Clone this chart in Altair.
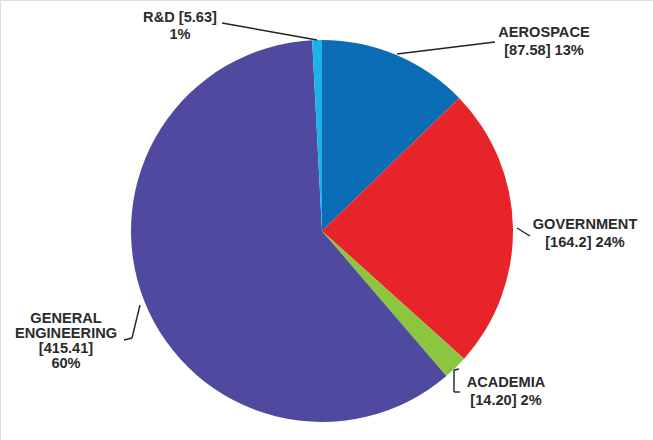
import altair as alt
import pandas as pd

# Data
sectors = ["AEROSPACE", "GOVERNMENT", "ACADEMIA", "GENERAL ENGINEERING", "R&D"]
values = [87.58, 164.2, 14.20, 415.41, 5.63]
value_labels = ["87.58", "164.2", "14.20", "415.41", "5.63"]
percents = ["13%", "24%", "2%", "60%", "1%"]
colors = ["#0b6cb6", "#e8242b", "#8cc63f", "#4f4a9f", "#1cb4e8"]

df = pd.DataFrame({"sector": sectors, "value": values, "idx": list(range(len(sectors)))})

# Annotation layout (label text built from the data arrays)
label_text = [
    f"AEROSPACE\n[{value_labels[0]}] {percents[0]}",
    f"GOVERNMENT\n[{value_labels[1]}] {percents[1]}",
    f"ACADEMIA\n[{value_labels[2]}] {percents[2]}",
    f"GENERAL\nENGINEERING\n[{value_labels[3]}]\n{percents[3]}",
    f"R&D [{value_labels[4]}]\n{percents[4]}",
]
label_pos = [(544, 33, 18), (585, 225, 18), (506, 383, 18), (66, 319, 15), (180, 18, 17)]
leaders = [
    (495, 42, 397, 54),
    (517, 228, 530, 236),
    (454, 370, 454, 392),
    (454, 370, 459, 369),
    (454, 392, 460, 392),
    (140, 305, 132, 338),
    (132, 338, 124, 340),
    (222, 23, 317, 40),
]

W, H = 653, 440
CX, CY, R = 322, 231, 191

pie = alt.Chart(df).mark_arc(radius=R, stroke=None).encode(
    theta=alt.Theta("value:Q", stack=True),
    order=alt.Order("idx:Q"),
    color=alt.Color("sector:N", scale=alt.Scale(domain=sectors, range=colors), legend=None),
    x=alt.value(CX),
    y=alt.value(CY),
)

layers = [pie]
for txt, (lx, ly, lh) in zip(label_text, label_pos):
    layers.append(
        alt.Chart(pd.DataFrame({"t": [txt]})).mark_text(
            font="Liberation Sans", fontWeight="bold", fontSize=14.6, color="#2b2b2b",
            align="center", baseline="middle", lineBreak="\n", lineHeight=lh,
        ).encode(text="t:N", x=alt.value(lx), y=alt.value(ly))
    )

ldf = pd.DataFrame(leaders, columns=["x", "y", "x2", "y2"])
rules = alt.Chart(ldf).mark_rule(color="#222222", strokeWidth=1.4).encode(
    x=alt.X("x:Q", scale=None), y=alt.Y("y:Q", scale=None),
    x2="x2:Q", y2="y2:Q",
)
layers.append(rules)

chart = alt.layer(*layers).properties(
    width=W, height=H, padding=0, autosize=alt.AutoSizeParams(type="none")
).configure_view(stroke=None).configure(background="white")

chart.save("out.html", embed_options={"renderer": "svg", "actions": False})
